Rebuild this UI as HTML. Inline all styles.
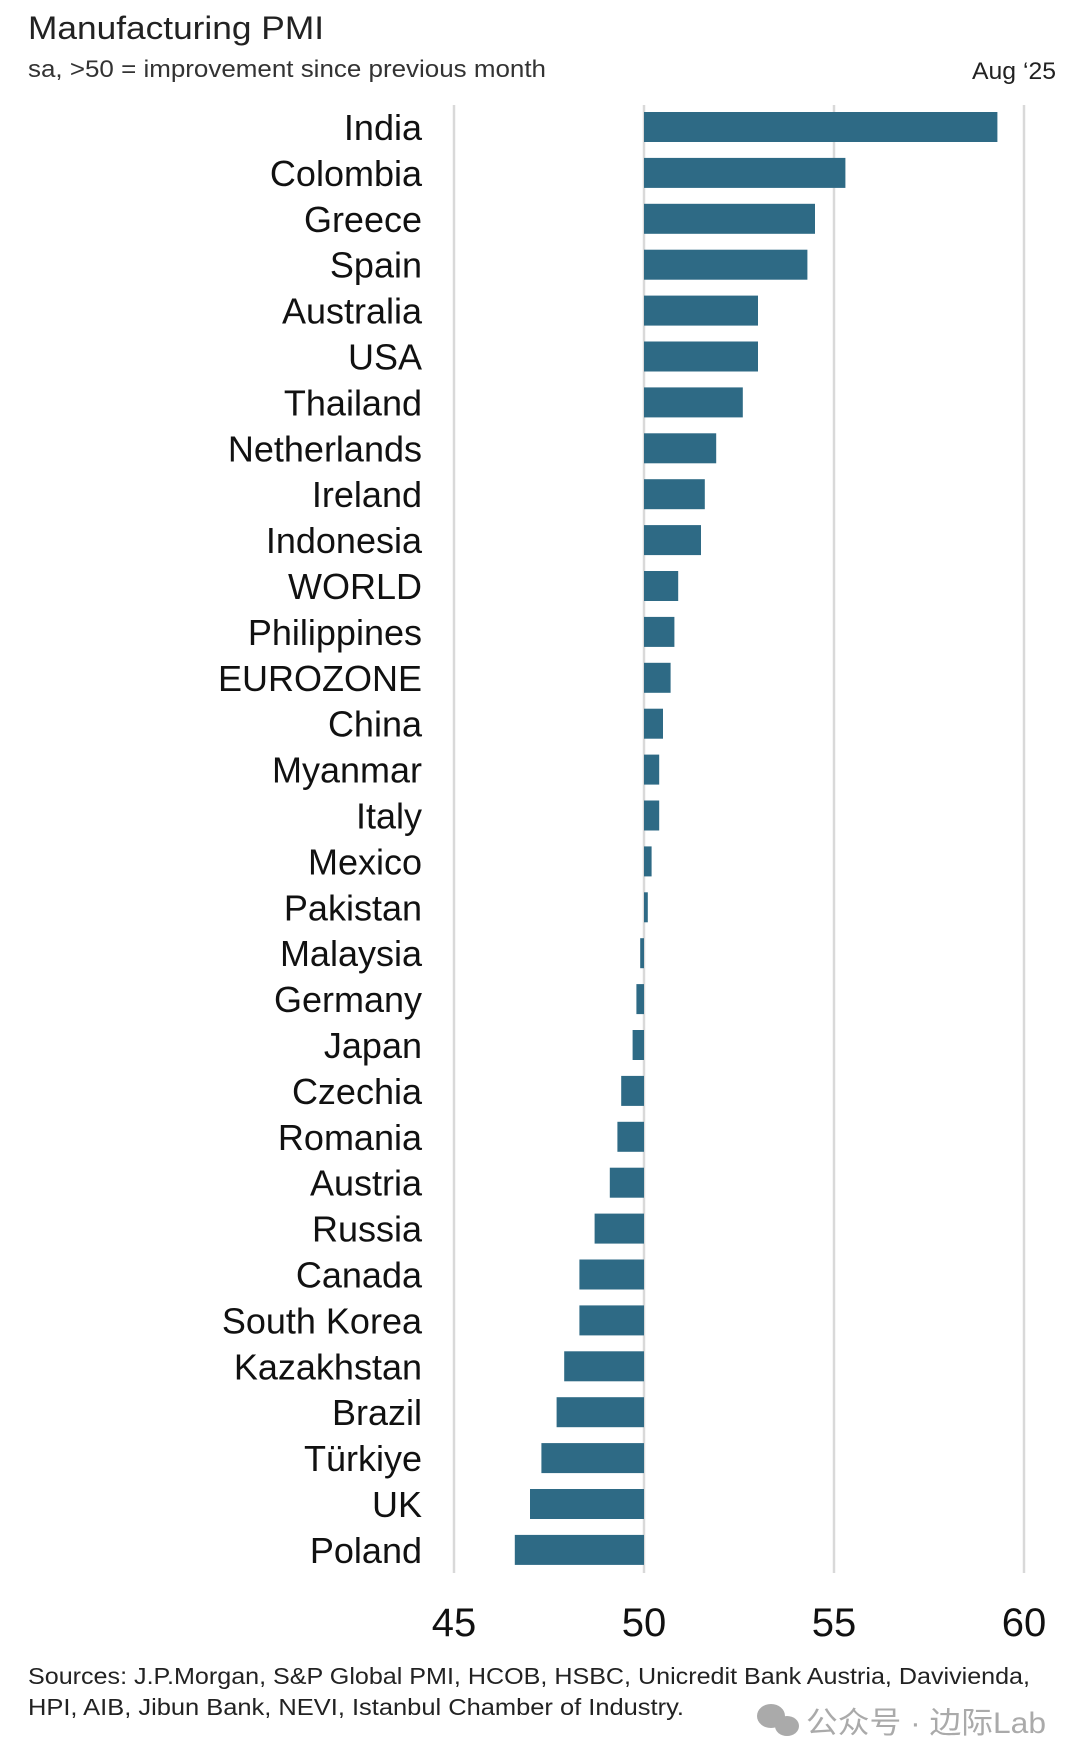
<!DOCTYPE html>
<html><head><meta charset="utf-8"><style>
html,body{margin:0;padding:0;background:#fff;}
svg{display:block;font-family:"Liberation Sans","Noto Sans CJK SC",sans-serif;}
</style></head><body>
<svg id="chart" width="1080" height="1763" viewBox="0 0 1080 1763">
<text x="28" y="39" font-size="32" fill="#222" textLength="296" lengthAdjust="spacingAndGlyphs">Manufacturing PMI</text>
<text x="28" y="77" font-size="24" fill="#333" textLength="518" lengthAdjust="spacingAndGlyphs">sa, &gt;50 = improvement since previous month</text>
<text x="1056" y="79" font-size="24" fill="#222" text-anchor="end" textLength="84" lengthAdjust="spacingAndGlyphs">Aug ‘25</text>
<g id="grid"></g><g id="bars"></g><g id="labels"></g><g id="ticks"></g>
<text x="28" y="1684" font-size="23" fill="#222" textLength="1002" lengthAdjust="spacingAndGlyphs">Sources: J.P.Morgan, S&amp;P Global PMI, HCOB, HSBC, Unicredit Bank Austria, Davivienda,</text>
<text x="28" y="1715" font-size="23" fill="#222" textLength="656" lengthAdjust="spacingAndGlyphs">HPI, AIB, Jibun Bank, NEVI, Istanbul Chamber of Industry.</text>
<g fill="#aaa">
<ellipse cx="771" cy="1716" rx="14" ry="12"/><ellipse cx="787" cy="1726" rx="12" ry="10"/>
<text x="806" y="1733" font-size="30" textLength="240" lengthAdjust="spacingAndGlyphs">公众号 · 边际Lab</text>
</g>
</svg>
<script>
const categories=["India","Colombia","Greece","Spain","Australia","USA","Thailand","Netherlands","Ireland","Indonesia","WORLD","Philippines","EUROZONE","China","Myanmar","Italy","Mexico","Pakistan","Malaysia","Germany","Japan","Czechia","Romania","Austria","Russia","Canada","South Korea","Kazakhstan","Brazil","Türkiye","UK","Poland"];
const values=[59.3,55.3,54.5,54.3,53.0,53.0,52.6,51.9,51.6,51.5,50.9,50.8,50.7,50.5,50.4,50.4,50.2,50.1,49.9,49.8,49.7,49.4,49.3,49.1,48.7,48.3,48.3,47.9,47.7,47.3,47.0,46.6];
const tickValues=[45,50,55,60];
const tickLabels=["45","50","55","60"];
const NS="http://www.w3.org/2000/svg";
const x0=454,x1=1024,vmin=45,vmax=60;
function xs(v){return x0+(v-vmin)/(vmax-vmin)*(x1-x0);}
const yTop=127,step=45.9,barH=30;
function ys(i){return yTop+i*step;}
const grid=document.getElementById('grid'),bars=document.getElementById('bars'),labels=document.getElementById('labels'),ticks=document.getElementById('ticks');
tickValues.forEach((t,i)=>{
 const l=document.createElementNS(NS,'line');
 
 
 l.setAttribute('x1',xs(t));l.setAttribute('x2',xs(t));l.setAttribute('y1',105);l.setAttribute('y2',1573);
 l.setAttribute('stroke','#d9d9d9');l.setAttribute('stroke-width','2.5');grid.appendChild(l);
 const tx=document.createElementNS(NS,'text');
 
 
 tx.setAttribute('x',xs(t));tx.setAttribute('y',1636);tx.setAttribute('font-size','40');tx.setAttribute('text-anchor','middle');tx.setAttribute('fill','#111');
 tx.textContent=tickLabels[i];ticks.appendChild(tx);
});
categories.forEach((c,i)=>{
 const v=values[i],a=xs(Math.min(v,50)),b=xs(Math.max(v,50));
 const r=document.createElementNS(NS,'rect');
 
 
 r.setAttribute('x',a);r.setAttribute('y',ys(i)-barH/2);r.setAttribute('width',Math.max(b-a,1));r.setAttribute('height',barH);
 r.setAttribute('fill','#2e6a85');bars.appendChild(r);
 const t=document.createElementNS(NS,'text');
 
 
 t.setAttribute('x',422);t.setAttribute('y',ys(i)+13);t.setAttribute('font-size','36');t.setAttribute('text-anchor','end');t.setAttribute('fill','#111');
 t.textContent=c;labels.appendChild(t);
});
</script>
</body></html>
